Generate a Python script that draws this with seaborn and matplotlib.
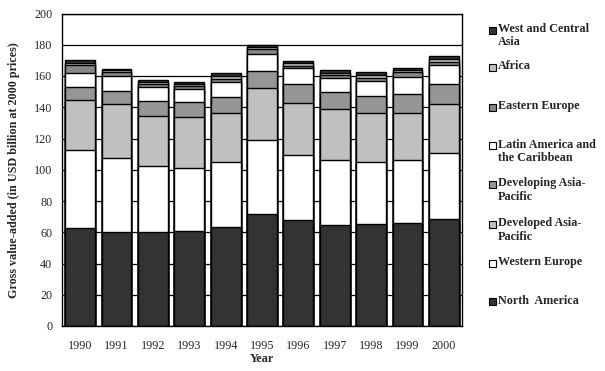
import numpy as np
import pandas as pd
import matplotlib
matplotlib.use("Agg")
import matplotlib.pyplot as plt
from matplotlib.patches import Rectangle
import seaborn as sns

years = ["1990", "1991", "1992", "1993", "1994", "1995", "1996", "1997", "1998", "1999", "2000"]
north_america = [62.5, 60.0, 60.0, 60.6, 63.2, 71.5, 67.6, 64.4, 65.1, 65.9, 68.3]
western_europe = [49.9, 47.7, 42.4, 40.3, 41.6, 47.3, 41.6, 41.6, 39.7, 40.1, 42.2]
developed_ap = [32.0, 34.2, 31.8, 32.7, 31.3, 33.3, 33.3, 32.7, 31.3, 30.1, 31.4]
developing_ap = [8.3, 8.3, 9.6, 9.6, 10.2, 10.9, 12.2, 10.8, 10.9, 12.2, 12.8]
latin_america = [9.0, 9.8, 8.9, 8.3, 9.7, 10.9, 10.2, 9.0, 9.6, 10.8, 12.1]
eastern_europe = [5.1, 2.4, 2.2, 2.1, 2.0, 3.1, 1.7, 1.9, 2.3, 3.3, 2.4]
africa = [1.7, 1.2, 1.3, 1.1, 2.0, 1.3, 1.7, 1.3, 2.0, 1.4, 1.7]
west_central_asia = [1.5, 1.1, 1.0, 1.3, 1.7, 1.8, 1.5, 1.9, 1.5, 1.5, 1.7]

series = [
    ("North  America", north_america, "#333333"),
    ("Western Europe", western_europe, "#ffffff"),
    ("Developed Asia-\nPacific", developed_ap, "#c0c0c0"),
    ("Developing Asia-\nPacific", developing_ap, "#969696"),
    ("Latin America and\nthe Caribbean", latin_america, "#ffffff"),
    ("Eastern Europe", eastern_europe, "#888888"),
    ("Africa", africa, "#c0c0c0"),
    ("West and Central\nAsia", west_central_asia, "#333333"),
]

sns.set_style("white")
plt.rcParams["font.family"] = ["Liberation Serif", "DejaVu Serif"]
FS = 8.7

fig = plt.figure(figsize=(6.05, 3.71), dpi=100)
W, H = 605, 371
ax = fig.add_axes([62 / W, 1 - 326 / H, (462 - 62) / W, (326 - 13.5) / H])

# gridlines behind bars
ax.set_axisbelow(True)
ax.yaxis.grid(True, color="black", linewidth=0.9)
ax.xaxis.grid(False)

# stacked bars: draw cumulative totals from top layer down
values = np.array([s[1] for s in series])
cum = np.cumsum(values, axis=0)
for i in range(len(series) - 1, -1, -1):
    df = pd.DataFrame({"year": years, "value": cum[i]})
    sns.barplot(data=df, x="year", y="value", color=series[i][2], saturation=1,
                width=0.82, edgecolor="black", linewidth=1.0, ax=ax, zorder=2)

ax.set_xlim(-0.5, len(years) - 0.5)
ax.set_ylim(0, 200)
ax.set_yticks(np.arange(0, 201, 20))
ax.set_xticks(range(len(years)))
ax.set_xticklabels(years)
ax.set_xticks(np.arange(-0.5, len(years), 1.0), minor=True)
ax.tick_params(axis="x", which="major", length=0, pad=10, labelsize=FS)
ax.tick_params(axis="x", which="minor", length=4, width=1, direction="out", color="black")
ax.tick_params(axis="y", which="major", length=4, width=1, direction="out", color="black",
               labelsize=FS, pad=3)
for sp in ax.spines.values():
    sp.set_visible(True)
    sp.set_color("black")
    sp.set_linewidth(1.0)

ax.set_xlabel("Year", fontsize=FS, fontweight="bold", labelpad=1)
ax.set_ylabel("Gross value-added (in USD billion at 2000 prices)", fontsize=FS,
              fontweight="bold", labelpad=10)

# legend (manual, top to bottom)
legend_y = [30, 67.3, 107.3, 145.7, 184.3, 224.3, 263.3, 301.7]
sw = 7
for (label, _, color), yc in zip(series[::-1], legend_y):
    fig.patches.append(Rectangle(((489) / W, 1 - (yc + sw / 2) / H), sw / W, sw / H,
                                 transform=fig.transFigure, facecolor=color,
                                 edgecolor="black", linewidth=0.8))
    fig.text(498 / W, 1 - (yc - 7) / H, label, fontsize=FS, fontweight="bold",
             va="top", ha="left", linespacing=1.15)

fig.savefig("out.png", dpi=100)
